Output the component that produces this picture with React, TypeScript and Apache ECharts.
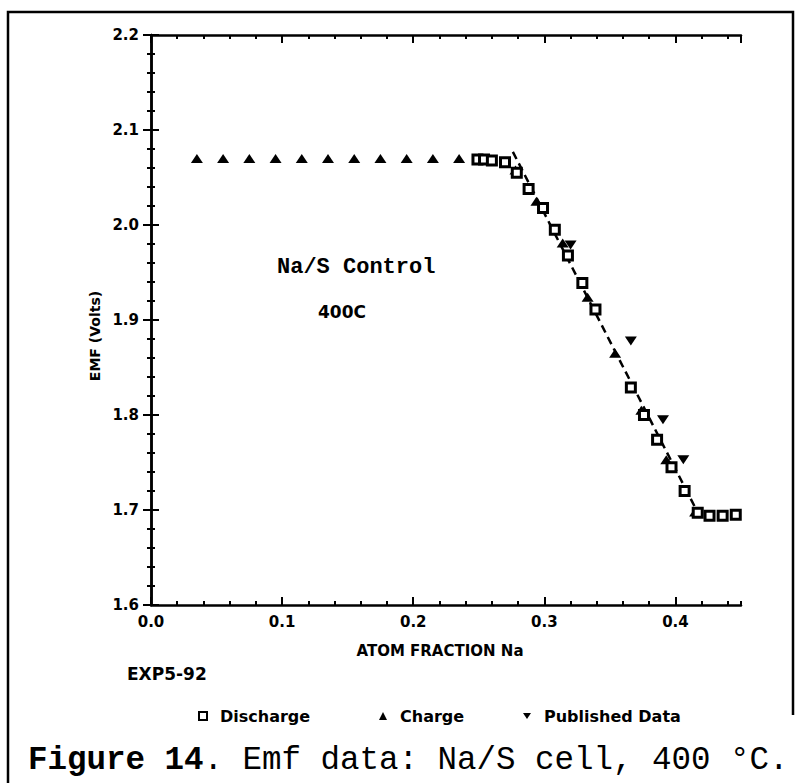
import React, { useEffect, useRef } from "react";
import * as echarts from "echarts";

// ---- data ----
const chargePoints: [number, number][] = [
  [0.035, 2.07], [0.055, 2.07], [0.075, 2.07], [0.095, 2.07], [0.115, 2.07],
  [0.135, 2.07], [0.155, 2.07], [0.175, 2.07], [0.195, 2.07], [0.215, 2.07],
  [0.235, 2.07],
  [0.278, 2.058], [0.294, 2.025], [0.314, 1.981], [0.333, 1.924],
  [0.354, 1.865], [0.374, 1.805], [0.393, 1.753], [0.415, 1.698],
];

const dischargePoints: [number, number][] = [
  [0.249, 2.069], [0.254, 2.069], [0.26, 2.068], [0.27, 2.066],
  [0.279, 2.055], [0.288, 2.038], [0.299, 2.018], [0.308, 1.995],
  [0.318, 1.968], [0.329, 1.939], [0.339, 1.911], [0.366, 1.829],
  [0.376, 1.8], [0.386, 1.774], [0.397, 1.745], [0.407, 1.72],
  [0.417, 1.697], [0.426, 1.694], [0.436, 1.694], [0.446, 1.695],
];

const publishedPoints: [number, number][] = [
  [0.32, 1.979], [0.366, 1.878], [0.3905, 1.795], [0.406, 1.753],
];

const fitLinePoints: [number, number][] = [
  [0.276, 2.077], [0.416, 1.7],
];

const seriesNames = ["Discharge", "Charge", "Published Data"];
const xRange = [0, 0.45];
const yRange = [1.6, 2.2];
const xMajor = 0.1;
const xMinor = 0.02;
const yMajor = 0.1;
const yMinor = 0.02;

const LABEL_FONT = "DejaVu Sans";
const MONO = "Liberation Mono";

function App() {
  const ref = useRef<HTMLDivElement>(null);

  useEffect(() => {
    if (!ref.current) return;
    const chart = echarts.init(ref.current, null, { renderer: "svg" });

    const axisLine = { show: true, lineStyle: { color: "#000", width: 2.5 } };

    const xBase = (position: "bottom" | "top", major: boolean, labels: boolean) => ({
      type: "value",
      position,
      min: xRange[0],
      max: xRange[1],
      interval: major ? xMajor : xMinor,
      axisLine: major ? axisLine : { show: false },
      axisTick: {
        show: true,
        inside: true,
        length: major ? 8 : 4,
        lineStyle: { color: "#000", width: 2 },
      },
      axisLabel: labels
        ? {
            show: true,
            showMaxLabel: false,
            margin: 9,
            color: "#000",
            fontFamily: LABEL_FONT,
            fontWeight: "bold",
            fontSize: 15,
            formatter: (v: number) => v.toFixed(1),
          }
        : { show: false },
      splitLine: { show: false },
    });

    const yBase = (position: "left" | "right", major: boolean, labels: boolean) => ({
      type: "value",
      position,
      min: yRange[0],
      max: yRange[1],
      interval: major ? yMajor : yMinor,
      axisLine: major ? axisLine : { show: false },
      axisTick: {
        show: true,
        inside: true,
        length: major ? 8 : 4,
        lineStyle: { color: "#000", width: 2 },
      },
      axisLabel: labels
        ? {
            show: true,
            margin: 12,
            color: "#000",
            fontFamily: LABEL_FONT,
            fontWeight: "bold",
            fontSize: 15,
            formatter: (v: number) => v.toFixed(1),
          }
        : { show: false },
      splitLine: { show: false },
    });

    const legendCommon = {
      orient: "horizontal",
      itemWidth: 8,
      itemHeight: 8,
      top: 703,
      textStyle: {
        color: "#000",
        fontFamily: LABEL_FONT,
        fontWeight: "bold",
        fontSize: 16,
        padding: [0, 0, 0, 8],
      },
      selectedMode: false,
    };

    chart.setOption({
      animation: false,
      backgroundColor: "#fff",
      grid: { left: 151, right: 57, top: 35, bottom: 178, containLabel: false },
      xAxis: [
        xBase("bottom", true, true),
        xBase("bottom", false, false),
        xBase("top", true, false),
        xBase("top", false, false),
      ],
      yAxis: [
        yBase("left", true, true),
        yBase("left", false, false),
        yBase("right", true, false),
        yBase("right", false, false),
      ],
      legend: [
        { ...legendCommon, data: [seriesNames[0]], left: 193 },
        { ...legendCommon, data: [seriesNames[1]], left: 374 },
        {
          ...legendCommon,
          data: [{ name: seriesNames[2], icon: "path://M0,0 L12,0 L6,9 Z" }],
          left: 518,
        },
      ],
      series: [
        {
          name: "fit",
          type: "line",
          data: fitLinePoints,
          showSymbol: false,
          symbol: "none",
          lineStyle: { color: "#000", width: 2.5, type: [8, 5] },
          z: 1,
        },
        {
          name: seriesNames[1],
          type: "scatter",
          data: chargePoints,
          symbol: "triangle",
          symbolSize: [12, 9],
          itemStyle: { color: "#000", opacity: 1 },
          z: 3,
        },
        {
          name: seriesNames[2],
          type: "scatter",
          data: publishedPoints,
          symbol: "triangle",
          symbolRotate: 180,
          symbolSize: [12, 9],
          itemStyle: { color: "#000", opacity: 1 },
          z: 3,
        },
        {
          name: seriesNames[0],
          type: "scatter",
          data: dischargePoints,
          symbol: "rect",
          symbolSize: 9,
          itemStyle: { color: "#fff", borderColor: "#000", borderWidth: 3, opacity: 1 },
          z: 4,
        },
      ],
      graphic: [
        {
          type: "polyline",
          shape: { points: [[8, 783], [8, 12], [793, 12], [793, 715]] },
          style: { stroke: "#000", lineWidth: 2.5, fill: "none" },
          silent: true,
        },
        {
          type: "text",
          x: 277,
          y: 267,
          style: {
            text: "Na/S Control",
            font: `bold 22px "${MONO}"`,
            fill: "#000",
            align: "left",
            verticalAlign: "middle",
          },
        },
        {
          type: "text",
          x: 342,
          y: 312,
          style: {
            text: "400C",
            font: `bold 17px "${LABEL_FONT}"`,
            fill: "#000",
            align: "center",
            verticalAlign: "middle",
          },
        },
        {
          type: "text",
          x: 95,
          y: 336,
          rotation: Math.PI / 2,
          style: {
            text: "EMF (Volts)",
            font: `bold 14px "${LABEL_FONT}"`,
            fill: "#000",
            align: "center",
            verticalAlign: "middle",
          },
        },
        {
          type: "text",
          x: 440,
          y: 651,
          style: {
            text: "ATOM FRACTION Na",
            font: `bold 15px "${LABEL_FONT}"`,
            fill: "#000",
            align: "center",
            verticalAlign: "middle",
          },
        },
        {
          type: "text",
          x: 127,
          y: 674,
          style: {
            text: "EXP5-92",
            font: `bold 17px "${LABEL_FONT}"`,
            fill: "#000",
            align: "left",
            verticalAlign: "middle",
          },
        },
        {
          type: "text",
          x: 28,
          y: 760,
          style: {
            text: "{b|Figure 14}{r|. Emf data: Na/S cell, 400 °C.}",
            fill: "#000",
            align: "left",
            verticalAlign: "middle",
            rich: {
              b: { fontFamily: MONO, fontWeight: "bold", fontSize: 32.5, fill: "#000" },
              r: { fontFamily: MONO, fontWeight: "normal", fontSize: 32.5, fill: "#000" },
            },
          },
        },
      ],
    });

    return () => chart.dispose();
  }, []);

  return (
    <div
      ref={ref}
      style={{ position: "fixed", left: 0, top: 0, width: 798, height: 783, background: "#fff" }}
    />
  );
}

export default App;
